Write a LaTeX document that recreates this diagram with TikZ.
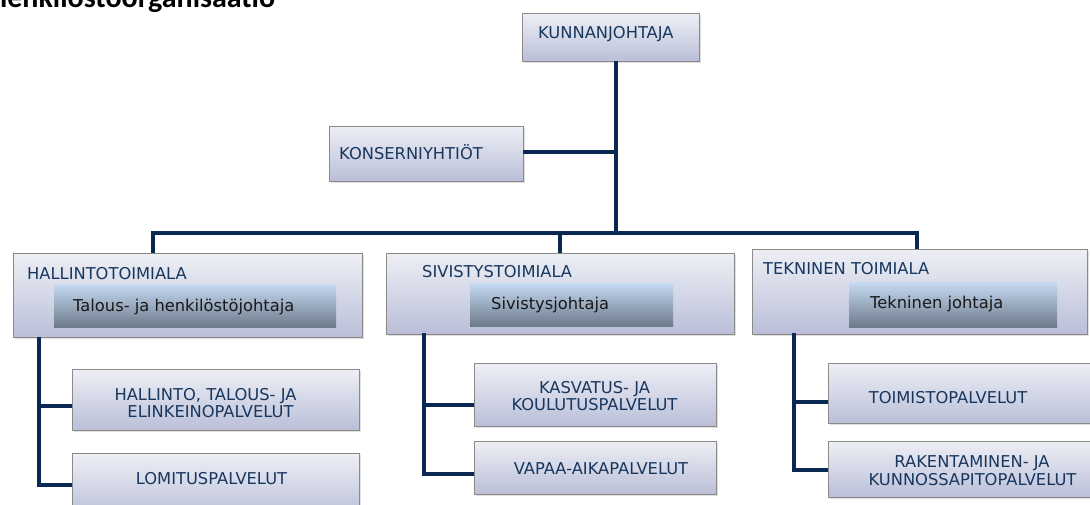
\documentclass[tikz,border=0pt]{standalone}
\usepackage{fontspec}
\setmainfont{DejaVu Sans}
\newfontfamily\titlefont{Carlito}
\usetikzlibrary{shadows}
\definecolor{navytext}{RGB}{23,55,94}
\definecolor{connc}{RGB}{10,40,84}
\definecolor{boxtop}{RGB}{238,239,245}
\definecolor{boxbot}{RGB}{186,191,216}
\definecolor{boxline}{RGB}{138,138,138}
\definecolor{intop}{RGB}{198,218,242}
\definecolor{inbot}{RGB}{108,123,139}
\tikzset{
  orgbox/.style={rectangle, draw=boxline, line width=0.8pt, top color=boxtop, bottom color=boxbot,
    drop shadow={shadow xshift=2pt, shadow yshift=-2pt, opacity=0.25}, inner sep=0pt},
  innerbox/.style={rectangle, draw=none, top color=intop, bottom color=inbot, inner sep=0pt},
  conn/.style={draw=connc, line width=4pt, line join=miter},
  lbl/.style={anchor=base west, inner sep=0pt, text=navytext, font=\fontsize{16.3}{17}\selectfont},
  clbl/.style={anchor=base, inner sep=0pt, text=navytext, font=\fontsize{16.3}{17}\selectfont},
  ilbl/.style={anchor=base west, inner sep=0pt, text=black!90, font=\fontsize{16.3}{17}\selectfont}
}
\begin{document}
\begin{tikzpicture}[x=1pt,y=-1pt]
\useasboundingbox (0,0) rectangle (1090,504);
\clip (0,0) rectangle (1090,504);
\fill[white] (0,0) rectangle (1090,504);

% title (cut off at the top)
\node[anchor=base west, inner sep=0pt, font=\titlefont\bfseries\fontsize{30}{30}\selectfont] (title) at (-9,7) {henkilöstöorganisaatio};

% connector coordinates
\coordinate (hub) at (616,233);
\coordinate (kjb) at (616,61);
\coordinate (konj) at (616,152);
\coordinate (barl) at (153,233);
\coordinate (barm) at (560,233);
\coordinate (barr) at (917,233);
\coordinate (ls) at (39,337);
\coordinate (lb1) at (39,406);
\coordinate (lb2) at (39,485);
\coordinate (ms) at (424,333);
\coordinate (mb1) at (424,405);
\coordinate (mb2) at (424,474);
\coordinate (rs) at (794,333);
\coordinate (rb1) at (794,402);
\coordinate (rb2) at (794,470);

% boxes
\node[orgbox, minimum width=177pt, minimum height=48pt] (kj) at (610.5,37) {};
\node[orgbox, minimum width=194pt, minimum height=55pt] (kon) at (426,153.5) {};
\node[orgbox, minimum width=349pt, minimum height=84pt] (hal) at (187.5,295) {};
\node[orgbox, minimum width=348pt, minimum height=81pt] (siv) at (560,293.5) {};
\node[orgbox, minimum width=335pt, minimum height=85pt] (tek) at (919.5,291.5) {};
\node[innerbox, minimum width=282pt, minimum height=43pt] (halj) at (195,305.5) {};
\node[innerbox, minimum width=203pt, minimum height=43pt] (sivj) at (571.5,304.5) {};
\node[innerbox, minimum width=208pt, minimum height=45pt] (tekj) at (953,304.5) {};
\node[orgbox, minimum width=287pt, minimum height=61pt] (h1) at (215.5,399.5) {};
\node[orgbox, minimum width=287pt, minimum height=64pt] (h2) at (215.5,485) {};
\node[orgbox, minimum width=242pt, minimum height=63pt] (s1) at (595,394.5) {};
\node[orgbox, minimum width=242pt, minimum height=53pt] (s2) at (595,467.5) {};
\node[orgbox, minimum width=272pt, minimum height=60pt] (t1) at (964,393) {};
\node[orgbox, minimum width=272pt, minimum height=56pt] (t2) at (964,469) {};

% connectors
\draw[conn] (kjb) -- (hub);
\draw[conn] (kon.east |- konj) -- (konj);
\draw[conn] (barl |- hal.north) -- (barl) -- (barr) -- (barr |- tek.north);
\draw[conn] (barm) -- (barm |- siv.north);
\draw[conn] (ls) -- (lb2) -- (lb2 -| h2.west);
\draw[conn] (lb1) -- (lb1 -| h1.west);
\draw[conn] (ms) -- (mb2) -- (mb2 -| s2.west);
\draw[conn] (mb1) -- (mb1 -| s1.west);
\draw[conn] (rs) -- (rb2) -- (rb2 -| t2.west);
\draw[conn] (rb1) -- (rb1 -| t1.west);

% labels
\node[lbl] (kjl) at (538,38) {KUNNANJOHTAJA};
\node[lbl] (konl) at (339,159) {KONSERNIYHTIÖT};
\node[lbl] (hall) at (27,279) {HALLINTOTOIMIALA};
\node[lbl] (sivl) at (422,277) {SIVISTYSTOIMIALA};
\node[lbl] (tekl) at (763,274) {TEKNINEN TOIMIALA};
\node[ilbl] (haljl) at (73,311) {Talous- ja henkilöstöjohtaja};
\node[ilbl] (sivjl) at (491,309) {Sivistysjohtaja};
\node[ilbl] (tekjl) at (870,308) {Tekninen johtaja};
\node[clbl] (h1a) at (205.5,400) {HALLINTO, TALOUS- JA};
\node[clbl] (h1b) at (210.5,417) {ELINKEINOPALVELUT};
\node[clbl] (h2l) at (211.5,484) {LOMITUSPALVELUT};
\node[clbl] (s1a) at (594.5,393) {KASVATUS- JA};
\node[clbl] (s1b) at (594.5,410) {KOULUTUSPALVELUT};
\node[clbl] (s2l) at (601,474) {VAPAA-AIKAPALVELUT};
\node[clbl] (t1l) at (948,403) {TOIMISTOPALVELUT};
\node[clbl] (t2a) at (972,467) {RAKENTAMINEN- JA};
\node[clbl] (t2b) at (972.5,485) {KUNNOSSAPITOPALVELUT};
\end{tikzpicture}
\end{document}
